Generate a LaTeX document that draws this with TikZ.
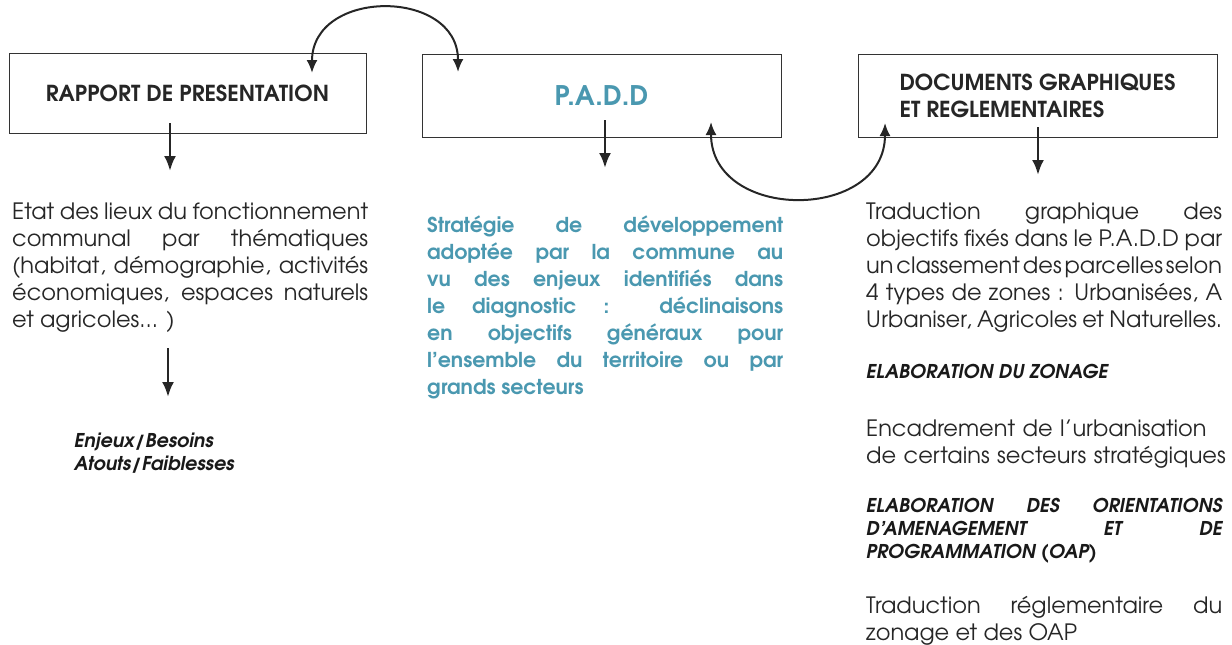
\documentclass[tikz,border=0pt]{standalone}
\usepackage{fontspec}
\setmainfont{texgyreadventor}[Extension=.otf, UprightFont=*-regular, BoldFont=*-bold, ItalicFont=*-italic, BoldItalicFont=*-bolditalic]
\usepackage{xcolor}
\usetikzlibrary{arrows.meta}
\definecolor{paddblue}{RGB}{74,152,176}

\begin{document}
\begin{tikzpicture}[x=1pt,y=-1pt,
	box/.style={draw=black!80, line width=1pt, inner sep=0pt},
	title/.style={font=\bfseries\fontsize{22}{27}\selectfont, text=black!85},
	body/.style={anchor=north west, inner sep=0pt, text width=356pt, align=justify, font=\fontsize{22.5}{27}\selectfont, text=black!85},
	note/.style={anchor=north west, inner sep=0pt, font=\bfseries\itshape\fontsize{19}{23}\selectfont, text=black!90},
	arr/.style={-{Latex[length=15pt,width=12pt]}, line width=2.6pt, black!85},
	linkarc/.style={{Latex[length=13pt,width=11pt]}-{Latex[length=13pt,width=11pt]}, line width=2pt, black!85}]
	\useasboundingbox (0,0) rectangle (1232,645);
	% draw boxes
	\node[box, title, minimum width=357pt, minimum height=80pt] (rapport) at (187.5,93) {RAPPORT DE PRESENTATION};
	\node[box, minimum width=359pt, minimum height=83pt, font=\bfseries\fontsize{27}{27}\selectfont, text=paddblue] (padd) at (601.5,95.5) {P.A.D.D};
	\node[box, title, minimum width=359pt, minimum height=83pt, align=left] (docs) at (1037.5,95.5) {DOCUMENTS GRAPHIQUES\\ET REGLEMENTAIRES};
	% add arrow
	\coordinate (r1) at (312,73);
	\coordinate (p1) at (458,72);
	\coordinate (p2) at (711,122);
	\coordinate (d1) at (885,123);
	\draw[linkarc] (r1) .. controls (312,-12) and (458,-12) .. (p1);
	\draw[linkarc] (p2) .. controls (711,222) and (885,222) .. (d1);
	\coordinate (ra) at (170,123);
	\coordinate (rb) at (170,171);
	\coordinate (pa) at (605,120);
	\coordinate (pb) at (605,168);
	\coordinate (da) at (1038,127);
	\coordinate (db) at (1038,175);
	\coordinate (ea) at (168,348);
	\coordinate (eb) at (168,397);
	\draw[arr] (ra) -- (rb);
	\draw[arr] (pa) -- (pb);
	\draw[arr] (da) -- (db);
	\draw[arr] (ea) -- (eb);
	% texts
	\node[body] (etat) at (12,203) {Etat des lieux du fonctionnement\linebreak communal par th\'ematiques\linebreak (habitat, d\'emographie, activit\'es\linebreak \'economiques, espaces naturels\linebreak et agricoles... )};
	\node[note] (enjeux) at (74,431) {\begin{tabular}{@{}l@{}}Enjeux/Besoins\\Atouts/Faiblesses\end{tabular}};
	\node[body, font=\bfseries\fontsize{20.5}{27}\selectfont, text=paddblue] (strat) at (427,216) {Strat\'egie de d\'eveloppement\linebreak adopt\'ee par la commune au\linebreak vu des enjeux identifi\'es dans\linebreak le diagnostic : d\'eclinaisons\linebreak en objectifs g\'en\'eraux pour\linebreak l'ensemble du territoire ou par\linebreak grands secteurs};
	\node[body] (trad) at (866,203) {Traduction graphique des\linebreak objectifs fix\'es dans le P.A.D.D par\linebreak {\spaceskip=0.1em plus 0.3em\relax un classement des parcelles selon}\linebreak 4 types de zones : Urbanis\'ees, A\linebreak Urbaniser, Agricoles et Naturelles.};
	\node[note] (zonage) at (866,364) {ELABORATION DU ZONAGE};
	\node[body, text width=380pt, align=left] (encad) at (866,420) {Encadrement de l'urbanisation\\de certains secteurs strat\'egiques};
	\node[note, text width=356pt, align=justify] (orient) at (866,498) {ELABORATION DES ORIENTATIONS\linebreak D'AMENAGEMENT ET DE\linebreak PROGRAMMATION (OAP)};
	\node[body] (regl) at (866,596) {Traduction r\'eglementaire du\linebreak zonage et des OAP};
\end{tikzpicture}
\end{document}
